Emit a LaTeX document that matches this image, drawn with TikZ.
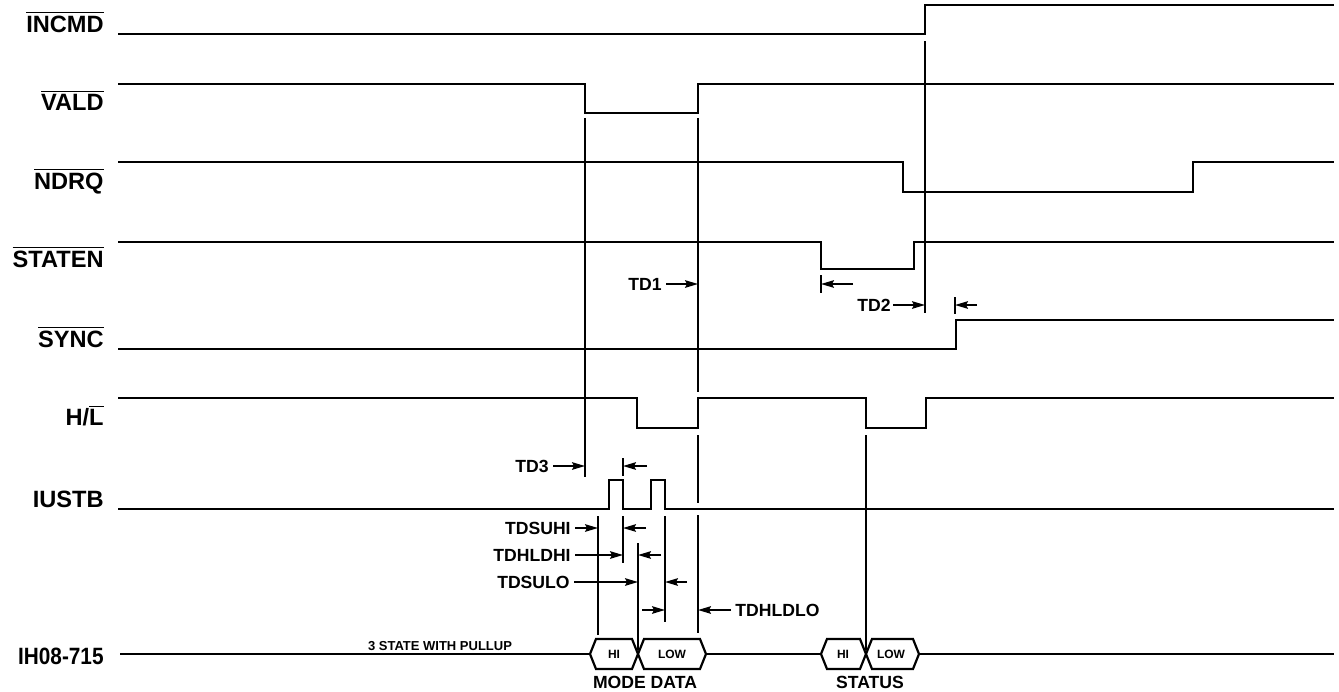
\documentclass[tikz,border=0pt]{standalone}
\usepackage{fontspec}
\usepackage{graphicx}
\setmainfont{Liberation Sans}
\usetikzlibrary{arrows.meta,calc}
\newcommand{\ovl}[1]{\ensuremath{\overline{\mbox{#1}}}}

\begin{document}
\begin{tikzpicture}[
    x=0.5pt, y=-0.5pt,
    sig/.style={line width=1.25pt},
    bus/.style={line width=1.1pt, line join=miter},
    tline/.style={line width=0.7pt},
    dimarr/.style={-{Stealth[length=6.5pt,width=3.8pt,inset=1pt]}, line width=0.7pt},
    signame/.style={anchor=base east, inner sep=0pt, font=\fontsize{11.8}{14}\selectfont\bfseries},
    tdlbl/.style={anchor=east, inner sep=0pt, font=\fontsize{8.8}{10}\selectfont\bfseries},
    buslbl/.style={inner sep=0pt, font=\fontsize{8.8}{10}\selectfont\bfseries},
    hexlbl/.style={inner sep=0pt, font=\fontsize{6}{7}\selectfont\bfseries}
  ]
  \useasboundingbox (0,0) rectangle (1339,691);

  % signal names
  \node[signame] (incmd) at (104,32) {\ovl{INCMD}};
  \node[signame] (vald) at (104,110) {\ovl{VALD}};
  \node[signame] (ndrq) at (104,189) {\ovl{NDRQ}};
  \node[signame] (staten) at (104,267) {\ovl{STATEN}};
  \node[signame] (sync) at (104,347) {\ovl{SYNC}};
  \node[signame] (hl) at (104,425) {H/\ovl{L}};
  \node[signame] (iustb) at (104,507) {IUSTB};
  \node[signame] (ih) at (104,664) {\scalebox{0.88}[1]{IH08-715}};

  % waveforms
  \draw[sig] (118,34) -| (925,5) -- (1334,5);
  \draw[sig] (118,84) -| (585,113) -| (698,84) -- (1334,84);
  \draw[sig] (118,162) -| (903,192) -| (1193,162) -- (1334,162);
  \draw[sig] (118,242) -| (821,269) -| (914,242) -- (1334,242);
  \draw[sig] (118,349) -| (956,320) -- (1334,320);
  \draw[sig] (118,398) -| (637,428) -| (698,398) -| (866,428) -| (926,398) -- (1334,398);
  \draw[sig] (118,509) -| (609,480) -| (623,509) -| (651,480) -| (665,509) -- (1334,509);

  % data bus
  \draw[bus] (120,654) -- (590,654);
  \draw[bus] (590,654) -- (596,639) -- (632,639) -- (638,654) -- (632,669) -- (596,669) -- cycle;
  \draw[bus] (638,654) -- (644,639) -- (700,639) -- (706,654) -- (700,669) -- (644,669) -- cycle;
  \draw[bus] (706,654) -- (821,654);
  \draw[bus] (821,654) -- (827,639) -- (860,639) -- (866,654) -- (860,669) -- (827,669) -- cycle;
  \draw[bus] (866,654) -- (872,639) -- (913,639) -- (919,654) -- (913,669) -- (872,669) -- cycle;
  \draw[bus] (919,654) -- (1334,654);
  \node[hexlbl] (hi1) at (614,654) {HI};
  \node[hexlbl] (low1) at (672,654) {LOW};
  \node[hexlbl] (hi2) at (843,654) {HI};
  \node[hexlbl] (low2) at (891,654) {LOW};
  \node[buslbl] (mode) at (645,682) {MODE DATA};
  \node[buslbl] (status) at (870,682) {STATUS};
  \node[hexlbl, font=\fontsize{6.5}{7}\selectfont\bfseries] (pullup) at (440,646) {3 STATE WITH PULLUP};

  % timing marks
  \coordinate (vfall) at (585,0);
  \coordinate (vrise) at (698,0);
  \coordinate (hiedge) at (598,0);
  \coordinate (p1fall) at (623,0);
  \coordinate (cross) at (638,0);
  \coordinate (p2fall) at (665,0);
  \coordinate (sfall) at (821,0);
  \coordinate (irise) at (925,0);
  \coordinate (syrise) at (955,0);

  \draw[tline] (585,118) -- (585,477);
  \draw[tline] (698,118) -- (698,392);
  \draw[tline] (698,435) -- (698,503);
  \draw[tline] (698,515) -- (698,633);
  \draw[tline] (925,41) -- (925,313);
  \draw[tline] (821,275) -- (821,293);
  \draw[tline] (955,297) -- (955,314);
  \draw[tline] (623,458) -- (623,476);
  \draw[tline] (598,516) -- (598,635);
  \draw[tline] (623,516) -- (623,563);
  \draw[tline] (638,543) -- (638,650);
  \draw[tline] (665,516) -- (665,622);
  \draw[tline] (866,435) -- (866,650);

  % delay labels
  \node[tdlbl] (td1) at (662,284) {TD1};
  \node[tdlbl] (td2) at (891,305) {TD2};
  \node[tdlbl] (td3) at (549,466) {TD3};
  \node[tdlbl] (tdsuhi) at (571,528) {TDSUHI};
  \node[tdlbl] (tdhldhi) at (571,555) {TDHLDHI};
  \node[tdlbl] (tdsulo) at (570,582) {TDSULO};
  \node[tdlbl, anchor=west] (tdhldlo) at (735,610) {TDHLDLO};

  \draw[dimarr] ([xshift=2pt]td1.east) -- (td1.east -| vrise);
  \draw[dimarr] ($(td1.east -| sfall)+(32,0)$) -- (td1.east -| sfall);
  \draw[dimarr] ([xshift=1pt]td2.east) -- (td2.east -| irise);
  \draw[dimarr] ($(td2.east -| syrise)+(22,0)$) -- (td2.east -| syrise);
  \draw[dimarr] ([xshift=2pt]td3.east) -- (td3.east -| vfall);
  \draw[dimarr] ($(td3.east -| p1fall)+(24,0)$) -- (td3.east -| p1fall);
  \draw[dimarr] ([xshift=2pt]tdsuhi.east) -- (tdsuhi.east -| hiedge);
  \draw[dimarr] ($(tdsuhi.east -| p1fall)+(23,0)$) -- (tdsuhi.east -| p1fall);
  \draw[dimarr] ([xshift=2pt]tdhldhi.east) -- (tdhldhi.east -| p1fall);
  \draw[dimarr] ($(tdhldhi.east -| cross)+(23,0)$) -- (tdhldhi.east -| cross);
  \draw[dimarr] ([xshift=2pt]tdsulo.east) -- (tdsulo.east -| cross);
  \draw[dimarr] ($(tdsulo.east -| p2fall)+(22,0)$) -- (tdsulo.east -| p2fall);
  \draw[dimarr] ($(tdhldlo.west -| p2fall)+(-23,0)$) -- (tdhldlo.west -| p2fall);
  \draw[dimarr] ([xshift=-2pt]tdhldlo.west) -- (tdhldlo.west -| vrise);
\end{tikzpicture}
\end{document}
